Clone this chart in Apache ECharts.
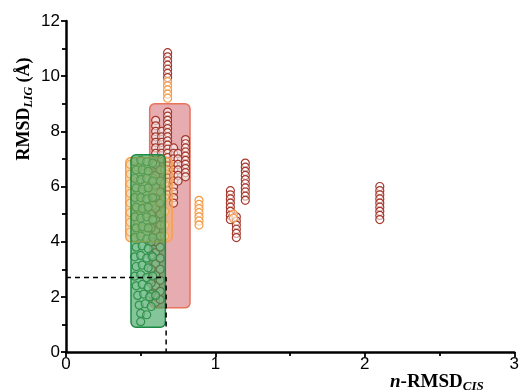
<!DOCTYPE html>
<html>
<head>
<meta charset="utf-8">
<script src="https://cdn.jsdelivr.net/npm/echarts@6/dist/echarts.min.js"></script>
<style>html,body{margin:0;padding:0;background:#fff}#c{width:522px;height:390px}</style>
</head>
<body>
<div id="c"></div>
<script>
// ---- data ----
var xTicks = [0, 1, 2, 3];
var yTicks = [0, 2, 4, 6, 8, 10, 12];
// boxes: [x0, y0, x1, y1]
var redBox = [[0.56, 1.6, 0.83, 9.0]];
var orangeBox = [[0.40, 4.0, 0.71, 7.05]];
var greenBox = [[0.435, 0.9, 0.665, 7.15]];
var dashX = [0, 0.67, 0.67];
var dashY = [2.7, 2.7, 0];
var darkRedPts = [
 [0.68,10.85],[0.68,10.7],[0.68,10.55],[0.68,10.4],[0.68,10.25],[0.68,10.1],[0.68,9.95],
 [0.60,8.4],[0.60,8.2],[0.60,8.0],[0.60,7.8],[0.60,7.6],[0.60,7.4],[0.60,7.2],
 [0.64,8.0],[0.64,7.8],[0.64,7.6],[0.64,7.4],[0.64,7.2],[0.64,7.0],
 [0.68,8.7],[0.68,8.55],[0.68,8.4],[0.68,8.25],[0.68,8.1],[0.68,7.95],[0.68,7.8],[0.68,7.65],[0.68,7.5],[0.68,7.35],[0.68,7.2],[0.68,7.05],[0.68,6.9],[0.68,6.75],[0.68,6.6],[0.68,6.45],[0.68,6.3],[0.68,6.15],[0.68,6.0],[0.68,5.85],[0.68,5.7],
 [0.72,7.4],[0.72,7.2],[0.72,7.0],[0.72,6.8],[0.72,6.6],[0.72,6.4],[0.72,6.2],[0.72,6.0],[0.72,5.8],[0.72,5.6],[0.72,5.4],
 [0.75,7.2],[0.75,7.0],[0.75,6.8],[0.75,6.6],[0.75,6.4],[0.75,6.2],
 [0.80,7.7],[0.80,7.55],[0.80,7.4],[0.80,7.25],[0.80,7.1],[0.80,6.95],[0.80,6.8],[0.80,6.65],[0.80,6.5],[0.80,6.35],
 [0.60,6.8],[0.60,6.4],[0.60,6.0],[0.60,5.6],[0.60,5.2],[0.60,4.8],[0.60,4.4],[0.60,4.0],[0.60,3.6],[0.60,3.2],[0.60,2.8],[0.60,2.4],[0.60,2.0],[0.60,1.8],
 [0.63,6.6],[0.63,6.2],[0.63,5.8],[0.63,5.4],[0.63,5.0],[0.63,4.6],[0.63,4.2],[0.63,3.8],[0.63,3.4],[0.63,3.0],[0.63,2.6],[0.63,2.2],[0.63,1.9],
 [0.57,5.0],[0.57,4.5],[0.57,4.0],[0.57,3.5],[0.57,3.0],[0.57,2.5],[0.57,2.1],
 [1.10,5.85],[1.10,5.7],[1.10,5.55],[1.10,5.4],[1.10,5.25],[1.10,5.1],[1.10,4.95],[1.10,4.8],
 [1.14,4.9],[1.14,4.75],[1.14,4.6],[1.14,4.45],[1.14,4.3],[1.14,4.15],
 [1.20,6.85],[1.20,6.7],[1.20,6.55],[1.20,6.4],[1.20,6.25],[1.20,6.1],[1.20,5.95],[1.20,5.8],[1.20,5.65],[1.20,5.5],
 [2.10,6.0],[2.10,5.85],[2.10,5.7],[2.10,5.55],[2.10,5.4],[2.10,5.25],[2.10,5.1],[2.10,4.95],[2.10,4.8]
];
var orangePts = [
 [0.68,9.8],[0.68,9.65],[0.68,9.5],[0.68,9.35],[0.68,9.2],
 [0.43,6.8],[0.43,6.45],[0.43,6.1],[0.43,5.75],[0.43,5.4],[0.43,5.05],[0.43,4.7],[0.43,4.35],
 [0.48,6.7],[0.48,6.2],[0.48,5.7],[0.48,5.2],[0.48,4.7],[0.48,4.3],
 [0.53,6.5],[0.53,6.0],[0.53,5.5],[0.53,5.0],[0.53,4.5],
 [0.58,6.3],[0.58,5.8],[0.58,5.3],[0.58,4.8],
 [0.66,6.6],[0.66,6.1],[0.66,5.6],[0.66,5.1],[0.66,4.6],[0.66,4.2],
 [0.89,5.5],[0.89,5.35],[0.89,5.2],[0.89,5.05],[0.89,4.9],[0.89,4.75],[0.89,4.6],
 [1.12,5.0],[1.12,4.85]
];
var greenPts = [
 [0.46,6.9],[0.50,6.95],[0.54,6.9],[0.58,6.85],
 [0.47,6.6],[0.51,6.6],[0.55,6.55],
 [0.46,6.3],[0.50,6.25],[0.54,6.3],[0.58,6.2],
 [0.47,5.95],[0.51,5.9],[0.55,5.95],
 [0.46,5.6],[0.50,5.6],[0.54,5.55],[0.58,5.6],
 [0.47,5.25],[0.51,5.2],[0.55,5.25],
 [0.46,4.9],[0.50,4.85],[0.54,4.9],[0.58,4.8],
 [0.47,4.5],[0.51,4.55],[0.55,4.5],
 [0.46,4.15],[0.50,4.2],[0.54,4.1],[0.58,4.15],
 [0.47,3.8],[0.51,3.85],[0.55,3.75],
 [0.46,3.45],[0.50,3.5],[0.54,3.4],[0.58,3.45],
 [0.47,3.1],[0.51,3.15],[0.55,3.05],
 [0.46,2.75],[0.50,2.8],[0.54,2.7],[0.58,2.75],
 [0.47,2.4],[0.51,2.45],[0.55,2.35],
 [0.48,2.05],[0.52,2.1],[0.56,2.0],[0.60,2.05],
 [0.49,1.7],[0.53,1.75],[0.57,1.65],
 [0.50,1.4],[0.54,1.35],
 [0.50,1.1]
];

// ---- chart ----
var chart = echarts.init(document.getElementById('c'), null, {renderer: 'canvas'});
function boxSeries(data, fill, stroke, z) {
  return {
    type: 'custom', z: z, silent: true,
    data: data,
    renderItem: function (params, api) {
      var p0 = api.coord([api.value(0), api.value(3)]);
      var p1 = api.coord([api.value(2), api.value(1)]);
      return {
        type: 'rect',
        shape: {x: p0[0], y: p0[1], width: p1[0] - p0[0], height: p1[1] - p0[1], r: 5},
        style: {fill: fill, stroke: stroke, lineWidth: 1.5}
      };
    }
  };
}
function ptsSeries(data, border, z) {
  return {
    type: 'scatter', z: z, data: data, symbol: 'circle', symbolSize: 8,
    itemStyle: {color: 'rgba(255,255,255,0.55)', borderColor: border, borderWidth: 1.2, opacity: 1},
    silent: true
  };
}
var axisFont = {color: '#000', fontSize: 17, fontFamily: 'Liberation Sans, Arial, sans-serif'};
chart.setOption({
  animation: false,
  grid: {left: 66, right: 6, top: 21, bottom: 38},
  xAxis: {
    type: 'value', min: xTicks[0], max: xTicks[xTicks.length - 1], interval: 1,
    axisLine: {lineStyle: {color: '#000', width: 2.5}},
    axisTick: {show: true, inside: false, length: 5, lineStyle: {color: '#000', width: 1.8}},
    minorTick: {show: true, splitNumber: 2, length: 4, lineStyle: {color: '#000', width: 1.8}},
    splitLine: {show: false},
    axisLabel: Object.assign({margin: 4}, axisFont)
  },
  yAxis: {
    type: 'value', min: yTicks[0], max: yTicks[yTicks.length - 1], interval: 2,
    axisLine: {show: true, lineStyle: {color: '#000', width: 2.5}},
    axisTick: {show: true, inside: false, length: 5, lineStyle: {color: '#000', width: 1.8}},
    minorTick: {show: true, splitNumber: 2, length: 4, lineStyle: {color: '#000', width: 1.8}},
    splitLine: {show: false},
    axisLabel: Object.assign({margin: 6}, axisFont)
  },
  series: [
    boxSeries(redBox, 'rgba(200,70,80,0.45)', 'rgba(232,110,85,0.95)', 1),
    ptsSeries(darkRedPts, '#a5382c', 2),
    ptsSeries(orangePts, '#f29a45', 2),
    ptsSeries(greenPts, '#2f7a3c', 2),
    boxSeries(orangeBox, 'rgba(250,180,100,0.45)', '#f5a04f', 3),
    boxSeries(greenBox, 'rgba(50,160,85,0.6)', '#1b8a44', 4),
    {
      type: 'line', z: 5, silent: true, symbol: 'none',
      data: dashX.map(function (x, i) { return [x, dashY[i]]; }),
      lineStyle: {color: '#000', width: 1.5, type: [5, 4]}
    }
  ],
  graphic: [
    {
      type: 'text', x: 24, y: 109, rotation: Math.PI / 2, z: 10,
      style: {
        text: '{b|RMSD}{s|LIG}{b| (Å)}',
        align: 'center', verticalAlign: 'middle',
        rich: {
          b: {fontFamily: 'Liberation Serif, Times New Roman, serif', fontWeight: 'bold', fontSize: 18, lineHeight: 22, fill: '#000', verticalAlign: 'middle'},
          s: {fontFamily: 'Liberation Serif, Times New Roman, serif', fontWeight: 'bold', fontStyle: 'italic', fontSize: 12, lineHeight: 12, fill: '#000', verticalAlign: 'bottom'}
        }
      }
    },
    {
      type: 'text', x: 390, y: 382, z: 10,
      style: {
        text: '{i|n}{b|-RMSD}{s|CIS}',
        align: 'left', verticalAlign: 'middle',
        rich: {
          i: {fontFamily: 'Liberation Serif, Times New Roman, serif', fontWeight: 'bold', fontStyle: 'italic', fontSize: 19, lineHeight: 22, fill: '#000', verticalAlign: 'middle'},
          b: {fontFamily: 'Liberation Serif, Times New Roman, serif', fontWeight: 'bold', fontSize: 19, lineHeight: 22, fill: '#000', verticalAlign: 'middle'},
          s: {fontFamily: 'Liberation Serif, Times New Roman, serif', fontWeight: 'bold', fontStyle: 'italic', fontSize: 13, lineHeight: 13, fill: '#000', verticalAlign: 'bottom'}
        }
      }
    }
  ]
});
</script>
</body>
</html>
